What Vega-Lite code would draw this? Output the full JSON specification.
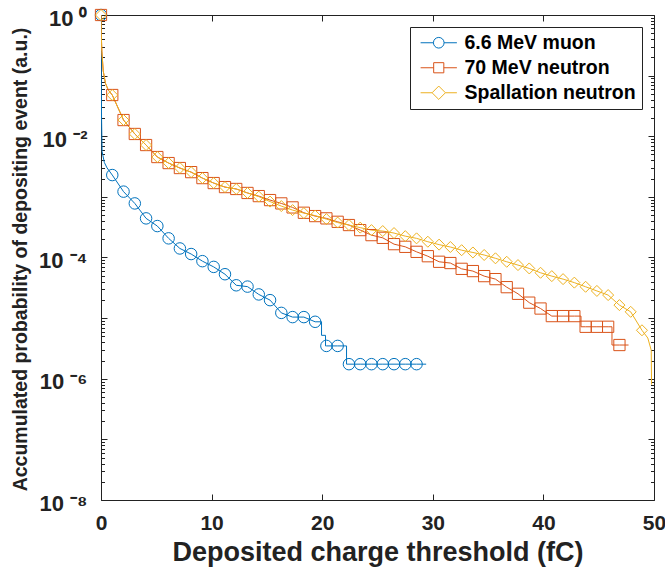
{
  "$schema": "https://vega.github.io/schema/vega-lite/v6.json",
  "width": 553,
  "height": 485,
  "autosize": "none",
  "padding": {"left": 101, "top": 15, "right": 11, "bottom": 75},
  "config": {"view": {"stroke": null}, "font": "Liberation Sans"},
  "data": {"values": [
    {"s": "6.6 MeV muon", "o": 0, "x": 0, "y": 1, "m": 1},
    {"s": "6.6 MeV muon", "o": 1, "x": 0.02, "y": 0.1, "m": 0},
    {"s": "6.6 MeV muon", "o": 2, "x": 0.05, "y": 0.02, "m": 0},
    {"s": "6.6 MeV muon", "o": 3, "x": 0.1, "y": 0.0056, "m": 0},
    {"s": "6.6 MeV muon", "o": 4, "x": 0.3, "y": 0.0037, "m": 0},
    {"s": "6.6 MeV muon", "o": 5, "x": 0.55, "y": 0.003, "m": 0},
    {"s": "6.6 MeV muon", "o": 6, "x": 1.019, "y": 0.00229, "m": 1},
    {"s": "6.6 MeV muon", "o": 7, "x": 2.038, "y": 0.00122, "m": 1},
    {"s": "6.6 MeV muon", "o": 8, "x": 3.057, "y": 0.00078, "m": 1},
    {"s": "6.6 MeV muon", "o": 9, "x": 4.076, "y": 0.000442, "m": 1},
    {"s": "6.6 MeV muon", "o": 10, "x": 5.095, "y": 0.00033, "m": 1},
    {"s": "6.6 MeV muon", "o": 11, "x": 6.114, "y": 0.000207, "m": 1},
    {"s": "6.6 MeV muon", "o": 12, "x": 7.133, "y": 0.000141, "m": 1},
    {"s": "6.6 MeV muon", "o": 13, "x": 8.152, "y": 0.000114, "m": 1},
    {"s": "6.6 MeV muon", "o": 14, "x": 9.171, "y": 0.000087, "m": 1},
    {"s": "6.6 MeV muon", "o": 15, "x": 10.19, "y": 0.00007, "m": 1},
    {"s": "6.6 MeV muon", "o": 16, "x": 11.209, "y": 0.000053, "m": 1},
    {"s": "6.6 MeV muon", "o": 17, "x": 12.228, "y": 0.0000348, "m": 1},
    {"s": "6.6 MeV muon", "o": 18, "x": 13.247, "y": 0.0000331, "m": 1},
    {"s": "6.6 MeV muon", "o": 19, "x": 14.266, "y": 0.0000246, "m": 1},
    {"s": "6.6 MeV muon", "o": 20, "x": 15.285, "y": 0.0000198, "m": 1},
    {"s": "6.6 MeV muon", "o": 21, "x": 16.304, "y": 0.0000122, "m": 1},
    {"s": "6.6 MeV muon", "o": 22, "x": 17.323, "y": 0.0000104, "m": 1},
    {"s": "6.6 MeV muon", "o": 23, "x": 18.342, "y": 0.0000104, "m": 1},
    {"s": "6.6 MeV muon", "o": 24, "x": 19.361, "y": 0.0000087, "m": 1},
    {"s": "6.6 MeV muon", "o": 25, "x": 19.94, "y": 0.0000087, "m": 0},
    {"s": "6.6 MeV muon", "o": 26, "x": 19.94, "y": 0.0000052, "m": 0},
    {"s": "6.6 MeV muon", "o": 27, "x": 20.3, "y": 0.0000052, "m": 0},
    {"s": "6.6 MeV muon", "o": 28, "x": 20.3, "y": 0.00000348, "m": 0},
    {"s": "6.6 MeV muon", "o": 29, "x": 20.38, "y": 0.00000348, "m": 1},
    {"s": "6.6 MeV muon", "o": 30, "x": 21.399, "y": 0.00000348, "m": 1},
    {"s": "6.6 MeV muon", "o": 31, "x": 22.2, "y": 0.00000348, "m": 0},
    {"s": "6.6 MeV muon", "o": 32, "x": 22.2, "y": 0.00000174, "m": 0},
    {"s": "6.6 MeV muon", "o": 33, "x": 22.418, "y": 0.00000174, "m": 1},
    {"s": "6.6 MeV muon", "o": 34, "x": 23.437, "y": 0.00000174, "m": 1},
    {"s": "6.6 MeV muon", "o": 35, "x": 24.456, "y": 0.00000174, "m": 1},
    {"s": "6.6 MeV muon", "o": 36, "x": 25.475, "y": 0.00000174, "m": 1},
    {"s": "6.6 MeV muon", "o": 37, "x": 26.494, "y": 0.00000174, "m": 1},
    {"s": "6.6 MeV muon", "o": 38, "x": 27.513, "y": 0.00000174, "m": 1},
    {"s": "6.6 MeV muon", "o": 39, "x": 28.532, "y": 0.00000174, "m": 1},
    {"s": "6.6 MeV muon", "o": 40, "x": 29.4, "y": 0.00000174, "m": 0},

    {"s": "70 MeV neutron", "o": 0, "x": 0, "y": 1, "m": 1},
    {"s": "70 MeV neutron", "o": 1, "x": 0.02, "y": 0.5, "m": 0},
    {"s": "70 MeV neutron", "o": 2, "x": 0.08, "y": 0.25, "m": 0},
    {"s": "70 MeV neutron", "o": 3, "x": 0.2, "y": 0.12, "m": 0},
    {"s": "70 MeV neutron", "o": 4, "x": 0.4, "y": 0.075, "m": 0},
    {"s": "70 MeV neutron", "o": 5, "x": 0.65, "y": 0.058, "m": 0},
    {"s": "70 MeV neutron", "o": 6, "x": 1.019, "y": 0.0479, "m": 1},
    {"s": "70 MeV neutron", "o": 7, "x": 2.038, "y": 0.0185, "m": 1},
    {"s": "70 MeV neutron", "o": 8, "x": 3.057, "y": 0.0109, "m": 1},
    {"s": "70 MeV neutron", "o": 9, "x": 4.076, "y": 0.00716, "m": 1},
    {"s": "70 MeV neutron", "o": 10, "x": 5.095, "y": 0.00454, "m": 1},
    {"s": "70 MeV neutron", "o": 11, "x": 6.114, "y": 0.00361, "m": 1},
    {"s": "70 MeV neutron", "o": 12, "x": 7.133, "y": 0.00299, "m": 1},
    {"s": "70 MeV neutron", "o": 13, "x": 8.152, "y": 0.00256, "m": 1},
    {"s": "70 MeV neutron", "o": 14, "x": 9.171, "y": 0.00204, "m": 1},
    {"s": "70 MeV neutron", "o": 15, "x": 10.19, "y": 0.00169, "m": 1},
    {"s": "70 MeV neutron", "o": 16, "x": 11.209, "y": 0.00145, "m": 1},
    {"s": "70 MeV neutron", "o": 17, "x": 12.228, "y": 0.00135, "m": 1},
    {"s": "70 MeV neutron", "o": 18, "x": 13.247, "y": 0.00116, "m": 1},
    {"s": "70 MeV neutron", "o": 19, "x": 14.266, "y": 0.00103, "m": 1},
    {"s": "70 MeV neutron", "o": 20, "x": 15.285, "y": 0.000885, "m": 1},
    {"s": "70 MeV neutron", "o": 21, "x": 16.304, "y": 0.00078, "m": 1},
    {"s": "70 MeV neutron", "o": 22, "x": 17.323, "y": 0.00067, "m": 1},
    {"s": "70 MeV neutron", "o": 23, "x": 18.342, "y": 0.000547, "m": 1},
    {"s": "70 MeV neutron", "o": 24, "x": 19.361, "y": 0.000482, "m": 1},
    {"s": "70 MeV neutron", "o": 25, "x": 20.38, "y": 0.000442, "m": 1},
    {"s": "70 MeV neutron", "o": 26, "x": 21.399, "y": 0.000388, "m": 1},
    {"s": "70 MeV neutron", "o": 27, "x": 22.418, "y": 0.000343, "m": 1},
    {"s": "70 MeV neutron", "o": 28, "x": 23.437, "y": 0.000283, "m": 1},
    {"s": "70 MeV neutron", "o": 29, "x": 24.456, "y": 0.000234, "m": 1},
    {"s": "70 MeV neutron", "o": 30, "x": 25.475, "y": 0.000211, "m": 1},
    {"s": "70 MeV neutron", "o": 31, "x": 26.494, "y": 0.000166, "m": 1},
    {"s": "70 MeV neutron", "o": 32, "x": 27.513, "y": 0.00015, "m": 1},
    {"s": "70 MeV neutron", "o": 33, "x": 28.532, "y": 0.000124, "m": 1},
    {"s": "70 MeV neutron", "o": 34, "x": 29.551, "y": 0.000105, "m": 1},
    {"s": "70 MeV neutron", "o": 35, "x": 30.57, "y": 0.000085, "m": 1},
    {"s": "70 MeV neutron", "o": 36, "x": 31.589, "y": 0.000081, "m": 1},
    {"s": "70 MeV neutron", "o": 37, "x": 32.608, "y": 0.000065, "m": 1},
    {"s": "70 MeV neutron", "o": 38, "x": 33.627, "y": 0.0000597, "m": 1},
    {"s": "70 MeV neutron", "o": 39, "x": 34.646, "y": 0.0000493, "m": 1},
    {"s": "70 MeV neutron", "o": 40, "x": 35.665, "y": 0.000044, "m": 1},
    {"s": "70 MeV neutron", "o": 41, "x": 36.684, "y": 0.0000324, "m": 1},
    {"s": "70 MeV neutron", "o": 42, "x": 37.703, "y": 0.0000252, "m": 1},
    {"s": "70 MeV neutron", "o": 43, "x": 38.722, "y": 0.000018, "m": 1},
    {"s": "70 MeV neutron", "o": 44, "x": 39.741, "y": 0.0000144, "m": 1},
    {"s": "70 MeV neutron", "o": 45, "x": 40.76, "y": 0.0000108, "m": 1},
    {"s": "70 MeV neutron", "o": 46, "x": 41.779, "y": 0.0000108, "m": 1},
    {"s": "70 MeV neutron", "o": 47, "x": 42.798, "y": 0.0000108, "m": 1},
    {"s": "70 MeV neutron", "o": 48, "x": 43.4, "y": 0.0000108, "m": 0},
    {"s": "70 MeV neutron", "o": 49, "x": 43.4, "y": 0.0000072, "m": 0},
    {"s": "70 MeV neutron", "o": 50, "x": 43.817, "y": 0.0000072, "m": 1},
    {"s": "70 MeV neutron", "o": 51, "x": 44.836, "y": 0.0000072, "m": 1},
    {"s": "70 MeV neutron", "o": 52, "x": 45.855, "y": 0.0000072, "m": 1},
    {"s": "70 MeV neutron", "o": 53, "x": 46.2, "y": 0.0000072, "m": 0},
    {"s": "70 MeV neutron", "o": 54, "x": 46.2, "y": 0.0000036, "m": 0},
    {"s": "70 MeV neutron", "o": 55, "x": 46.874, "y": 0.0000036, "m": 1},
    {"s": "70 MeV neutron", "o": 56, "x": 47.7, "y": 0.0000036, "m": 0},

    {"s": "Spallation neutron", "o": 0, "x": 0, "y": 1, "m": 1},
    {"s": "Spallation neutron", "o": 1, "x": 0.02, "y": 0.5, "m": 0},
    {"s": "Spallation neutron", "o": 2, "x": 0.08, "y": 0.25, "m": 0},
    {"s": "Spallation neutron", "o": 3, "x": 0.2, "y": 0.12, "m": 0},
    {"s": "Spallation neutron", "o": 4, "x": 0.4, "y": 0.075, "m": 0},
    {"s": "Spallation neutron", "o": 5, "x": 0.65, "y": 0.058, "m": 0},
    {"s": "Spallation neutron", "o": 6, "x": 1.019, "y": 0.0479, "m": 1},
    {"s": "Spallation neutron", "o": 7, "x": 2.038, "y": 0.0185, "m": 1},
    {"s": "Spallation neutron", "o": 8, "x": 3.057, "y": 0.0109, "m": 1},
    {"s": "Spallation neutron", "o": 9, "x": 4.076, "y": 0.00716, "m": 1},
    {"s": "Spallation neutron", "o": 10, "x": 5.095, "y": 0.00454, "m": 1},
    {"s": "Spallation neutron", "o": 11, "x": 6.114, "y": 0.00361, "m": 1},
    {"s": "Spallation neutron", "o": 12, "x": 7.133, "y": 0.00299, "m": 1},
    {"s": "Spallation neutron", "o": 13, "x": 8.152, "y": 0.00256, "m": 1},
    {"s": "Spallation neutron", "o": 14, "x": 9.171, "y": 0.00204, "m": 1},
    {"s": "Spallation neutron", "o": 15, "x": 10.19, "y": 0.00169, "m": 1},
    {"s": "Spallation neutron", "o": 16, "x": 11.209, "y": 0.00145, "m": 1},
    {"s": "Spallation neutron", "o": 17, "x": 12.228, "y": 0.00135, "m": 1},
    {"s": "Spallation neutron", "o": 18, "x": 13.247, "y": 0.00116, "m": 1},
    {"s": "Spallation neutron", "o": 19, "x": 14.266, "y": 0.00101, "m": 1},
    {"s": "Spallation neutron", "o": 20, "x": 15.285, "y": 0.000836, "m": 1},
    {"s": "Spallation neutron", "o": 21, "x": 16.304, "y": 0.000705, "m": 1},
    {"s": "Spallation neutron", "o": 22, "x": 17.323, "y": 0.000605, "m": 1},
    {"s": "Spallation neutron", "o": 23, "x": 18.342, "y": 0.00054, "m": 1},
    {"s": "Spallation neutron", "o": 24, "x": 19.361, "y": 0.000491, "m": 1},
    {"s": "Spallation neutron", "o": 25, "x": 20.38, "y": 0.00043, "m": 1},
    {"s": "Spallation neutron", "o": 26, "x": 21.399, "y": 0.000377, "m": 1},
    {"s": "Spallation neutron", "o": 27, "x": 22.418, "y": 0.000343, "m": 1},
    {"s": "Spallation neutron", "o": 28, "x": 23.437, "y": 0.000311, "m": 1},
    {"s": "Spallation neutron", "o": 29, "x": 24.456, "y": 0.000283, "m": 1},
    {"s": "Spallation neutron", "o": 30, "x": 25.475, "y": 0.000273, "m": 1},
    {"s": "Spallation neutron", "o": 31, "x": 26.494, "y": 0.000253, "m": 1},
    {"s": "Spallation neutron", "o": 32, "x": 27.513, "y": 0.000225, "m": 1},
    {"s": "Spallation neutron", "o": 33, "x": 28.532, "y": 0.000207, "m": 1},
    {"s": "Spallation neutron", "o": 34, "x": 29.551, "y": 0.000182, "m": 1},
    {"s": "Spallation neutron", "o": 35, "x": 30.57, "y": 0.000163, "m": 1},
    {"s": "Spallation neutron", "o": 36, "x": 31.589, "y": 0.000149, "m": 1},
    {"s": "Spallation neutron", "o": 37, "x": 32.608, "y": 0.000132, "m": 1},
    {"s": "Spallation neutron", "o": 38, "x": 33.627, "y": 0.000121, "m": 1},
    {"s": "Spallation neutron", "o": 39, "x": 34.646, "y": 0.00011, "m": 1},
    {"s": "Spallation neutron", "o": 40, "x": 35.665, "y": 0.000097, "m": 1},
    {"s": "Spallation neutron", "o": 41, "x": 36.684, "y": 0.000085, "m": 1},
    {"s": "Spallation neutron", "o": 42, "x": 37.703, "y": 0.000075, "m": 1},
    {"s": "Spallation neutron", "o": 43, "x": 38.722, "y": 0.000066, "m": 1},
    {"s": "Spallation neutron", "o": 44, "x": 39.741, "y": 0.000056, "m": 1},
    {"s": "Spallation neutron", "o": 45, "x": 40.76, "y": 0.0000493, "m": 1},
    {"s": "Spallation neutron", "o": 46, "x": 41.779, "y": 0.000044, "m": 1},
    {"s": "Spallation neutron", "o": 47, "x": 42.798, "y": 0.0000385, "m": 1},
    {"s": "Spallation neutron", "o": 48, "x": 43.817, "y": 0.0000329, "m": 1},
    {"s": "Spallation neutron", "o": 49, "x": 44.836, "y": 0.0000281, "m": 1},
    {"s": "Spallation neutron", "o": 50, "x": 45.855, "y": 0.000024, "m": 1},
    {"s": "Spallation neutron", "o": 51, "x": 46.874, "y": 0.0000164, "m": 1},
    {"s": "Spallation neutron", "o": 52, "x": 47.893, "y": 0.0000127, "m": 1},
    {"s": "Spallation neutron", "o": 53, "x": 48.912, "y": 0.0000063, "m": 1},
    {"s": "Spallation neutron", "o": 54, "x": 49.44, "y": 0.0000047, "m": 0},
    {"s": "Spallation neutron", "o": 55, "x": 49.75, "y": 0.00000295, "m": 0},
    {"s": "Spallation neutron", "o": 56, "x": 49.78, "y": 0.0000008, "m": 0}
  ]},
  "resolve": {
    "scale": {"color": "independent", "shape": "independent"},
    "axis": {"x": "independent", "y": "independent"}
  },
  "layer": [
    {
      "mark": {"type": "line", "strokeWidth": 1, "clip": true},
      "encoding": {
        "x": {"field": "x", "type": "quantitative",
          "scale": {"domain": [0, 50], "nice": false, "zero": false},
          "axis": {"orient": "bottom", "values": [0, 10, 20, 30, 40, 50], "grid": false,
            "tickSize": -6, "tickColor": "#222", "tickWidth": 1,
            "domainColor": "#222", "domainWidth": 1,
            "labelFont": "Liberation Sans", "labelFontSize": 21, "labelFontWeight": "bold", "labelColor": "#222",
            "labelPadding": 18, "labelFlush": false, "labelOverlap": false, "labelBound": false,
            "title": "Deposited charge threshold (fC)",
            "titleFont": "Liberation Sans", "titleFontSize": 27, "titleFontWeight": "bold", "titleColor": "#222",
            "titleX": 276.5, "titleY": 60, "titleBaseline": "alphabetic", "titleAlign": "center"}},
        "y": {"field": "y", "type": "quantitative",
          "scale": {"type": "log", "domain": [1e-8, 1], "nice": false},
          "axis": {"orient": "left", "grid": false,
            "values": [1e-8,2e-8,3e-8,4e-8,5e-8,6e-8,7e-8,8e-8,9e-8,1e-7,2e-7,3e-7,4e-7,5e-7,6e-7,7e-7,8e-7,9e-7,1e-6,2e-6,3e-6,4e-6,5e-6,6e-6,7e-6,8e-6,9e-6,1e-5,2e-5,3e-5,4e-5,5e-5,6e-5,7e-5,8e-5,9e-5,1e-4,2e-4,3e-4,4e-4,5e-4,6e-4,7e-4,8e-4,9e-4,1e-3,2e-3,3e-3,4e-3,5e-3,6e-3,7e-3,8e-3,9e-3,1e-2,2e-2,3e-2,4e-2,5e-2,6e-2,7e-2,8e-2,9e-2,0.1,0.2,0.3,0.4,0.5,0.6,0.7,0.8,0.9,1],
            "labelExpr": "abs(log(datum.value)/LN10-round(log(datum.value)/LN10))>0.001 ? '' : round(log(datum.value)/LN10)==0 ? '10 ⁰' : round(log(datum.value)/LN10)==-2 ? '10 ⁻²' : round(log(datum.value)/LN10)==-4 ? '10 ⁻⁴' : round(log(datum.value)/LN10)==-6 ? '10 ⁻⁶' : round(log(datum.value)/LN10)==-8 ? '10 ⁻⁸' : ''",
            "tickSize": {"condition": {"test": "abs(log(datum.value)/LN10-round(log(datum.value)/LN10))<0.001", "value": -6}, "value": -3.5},
            "tickColor": "#222", "tickWidth": 1,
            "domainColor": "#222", "domainWidth": 1,
            "labelFont": "Liberation Sans", "labelFontSize": 22, "labelFontWeight": "bold", "labelColor": "#222",
            "labelPadding": 20, "labelFlush": false, "labelOverlap": false, "labelBound": false,
            "labelBaseline": "middle", "labelOffset": 3,
            "title": "Accumulated probability of depositing event (a.u.)",
            "titleFont": "Liberation Sans", "titleFontSize": 19.5, "titleFontWeight": "bold", "titleColor": "#222",
            "titleAngle": -90, "titleX": -75, "titleY": 244, "titleBaseline": "alphabetic", "titleAlign": "center"}},
        "color": {"field": "s", "type": "nominal", "legend": null,
          "scale": {"domain": ["6.6 MeV muon", "70 MeV neutron", "Spallation neutron"], "range": ["#0072BD", "#D95319", "#EDB120"]}},
        "order": {"field": "o", "type": "quantitative"}
      }
    },
    {
      "transform": [{"filter": "datum.m == 1"}],
      "mark": {"type": "point", "filled": false, "strokeWidth": 1, "opacity": 1},
      "encoding": {
        "x": {"field": "x", "type": "quantitative",
          "scale": {"domain": [0, 50], "nice": false, "zero": false},
          "axis": {"orient": "top", "values": [0, 10, 20, 30, 40, 50], "grid": false, "labels": false, "title": null,
            "tickSize": -6, "tickColor": "#222", "tickWidth": 1, "domainColor": "#222", "domainWidth": 1}},
        "y": {"field": "y", "type": "quantitative",
          "scale": {"type": "log", "domain": [1e-8, 1], "nice": false},
          "axis": {"orient": "right", "grid": false, "labels": false, "title": null,
            "values": [1e-8,2e-8,3e-8,4e-8,5e-8,6e-8,7e-8,8e-8,9e-8,1e-7,2e-7,3e-7,4e-7,5e-7,6e-7,7e-7,8e-7,9e-7,1e-6,2e-6,3e-6,4e-6,5e-6,6e-6,7e-6,8e-6,9e-6,1e-5,2e-5,3e-5,4e-5,5e-5,6e-5,7e-5,8e-5,9e-5,1e-4,2e-4,3e-4,4e-4,5e-4,6e-4,7e-4,8e-4,9e-4,1e-3,2e-3,3e-3,4e-3,5e-3,6e-3,7e-3,8e-3,9e-3,1e-2,2e-2,3e-2,4e-2,5e-2,6e-2,7e-2,8e-2,9e-2,0.1,0.2,0.3,0.4,0.5,0.6,0.7,0.8,0.9,1],
            "tickSize": {"condition": {"test": "abs(log(datum.value)/LN10-round(log(datum.value)/LN10))<0.001", "value": -6}, "value": -3.5},
            "tickColor": "#222", "tickWidth": 1, "domainColor": "#222", "domainWidth": 1}},
        "color": {"field": "s", "type": "nominal", "legend": null,
          "scale": {"domain": ["6.6 MeV muon", "70 MeV neutron", "Spallation neutron"], "range": ["#0072BD", "#D95319", "#EDB120"]}},
        "shape": {"field": "s", "type": "nominal", "legend": null,
          "scale": {"domain": ["6.6 MeV muon", "70 MeV neutron", "Spallation neutron"], "range": ["circle", "square", "diamond"]}},
        "size": {"field": "s", "type": "nominal", "legend": null,
          "scale": {"domain": ["6.6 MeV muon", "70 MeV neutron", "Spallation neutron"], "range": [132, 121, 230]}}
      }
    },
    {
      "transform": [{"filter": "datum.m == 1"}],
      "mark": {"type": "point", "filled": false, "strokeWidth": 1, "opacity": 0},
      "encoding": {
        "x": {"field": "x", "type": "quantitative", "axis": null,
          "scale": {"domain": [0, 50], "nice": false, "zero": false}},
        "y": {"field": "y", "type": "quantitative", "axis": null,
          "scale": {"type": "log", "domain": [1e-8, 1], "nice": false}},
        "color": {"field": "s", "type": "nominal",
          "scale": {"domain": ["6.6 MeV muon", "70 MeV neutron", "Spallation neutron"], "range": ["#0072BD", "#D95319", "#EDB120"]},
          "legend": {"title": null, "orient": "top-right", "offset": 12, "padding": 6,
            "strokeColor": "#222", "fillColor": "white", "labelLimit": 400,
            "labelFont": "Liberation Sans", "labelFontSize": 19.5, "labelFontWeight": "bold", "labelColor": "#000",
            "symbolSize": 114, "symbolStrokeWidth": 1, "symbolOpacity": 1, "symbolFillColor": "transparent",
            "symbolOffset": 13, "labelOffset": 16, "rowPadding": 4}},
        "shape": {"field": "s", "type": "nominal",
          "scale": {"domain": ["6.6 MeV muon", "70 MeV neutron", "Spallation neutron"],
            "range": ["M-3.4,0L-1,0M1,0L3.4,0M1,0A1,1,0,1,1,-1,0A1,1,0,1,1,1,0Z",
                      "M-3.4,0L-0.95,0M0.95,0L3.4,0M-0.95,-0.95L0.95,-0.95L0.95,0.95L-0.95,0.95Z",
                      "M-3.4,0L-1.25,0M1.25,0L3.4,0M0,-1.25L1.25,0L0,1.25L-1.25,0Z"]},
          "legend": {"title": null, "orient": "top-right", "offset": 12, "padding": 6,
            "strokeColor": "#222", "fillColor": "white", "labelLimit": 400,
            "labelFont": "Liberation Sans", "labelFontSize": 19.5, "labelFontWeight": "bold", "labelColor": "#000",
            "symbolSize": 114, "symbolStrokeWidth": 1, "symbolOpacity": 1, "symbolFillColor": "transparent",
            "symbolOffset": 13, "labelOffset": 16, "rowPadding": 4}}
      }
    }
  ]
}
